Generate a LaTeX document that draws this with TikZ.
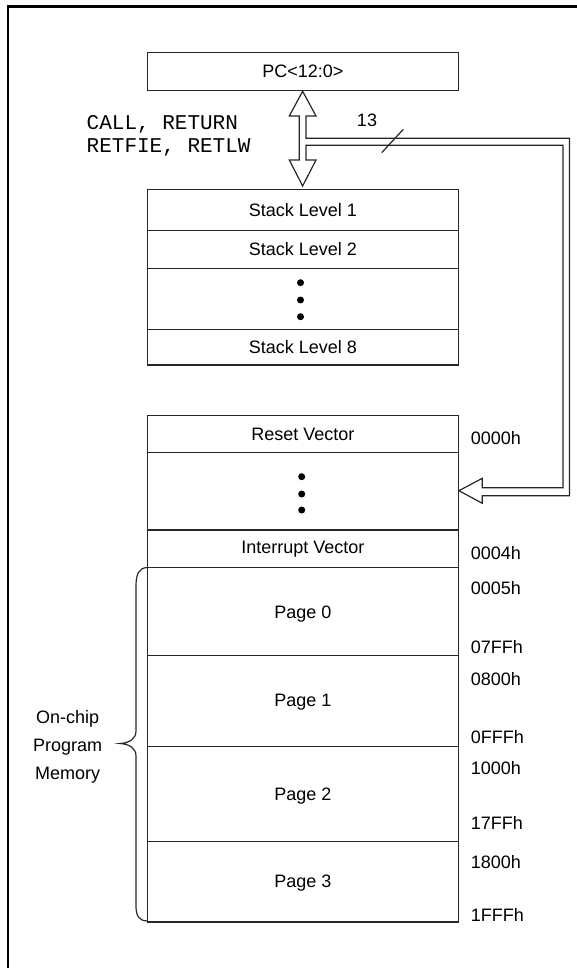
\documentclass[tikz,border=0pt]{standalone}
\usepackage{fontspec}
\setmainfont{Liberation Sans}
\newfontfamily\monof{Liberation Mono}
\begin{document}
\begin{tikzpicture}[x=1pt,y=-1pt,
  cell/.style={draw=black!85, line width=1.2pt, minimum width=310.8pt, inner sep=0pt, font=\fontsize{18}{21}\selectfont},
  addr/.style={anchor=west, inner sep=0pt, font=\fontsize{18}{21}\selectfont},
  mtxt/.style={anchor=west, inner sep=0pt, font=\monof\fontsize{21}{24}\selectfont},
  ln/.style={draw=black!85, line width=1.2pt}]
\useasboundingbox (0,0) rectangle (577,968);
\draw[line width=2.2pt] (7.8,970) -- (7.8,6.5) -- (580,6.5);
% PC box
\node[cell, minimum height=38.4pt] (pc) at (302.9,71.5) {PC<12:0>};
% stack
\node[cell, minimum height=41.4pt] (s1) at (302.9,210) {Stack Level 1};
\node[cell, minimum height=37.6pt] (s2) at (302.9,249.5) {Stack Level 2};
\node[cell, minimum height=61pt] (sd) at (302.9,298.8) {};
\node[cell, minimum height=35.7pt] (s8) at (302.9,347.15) {Stack Level 8};
\foreach \y in {282.7,300,316.7} \fill (300.5,\y) circle (3.5);
% memory
\node[cell, minimum height=37pt] (rv) at (302.9,434.2) {Reset Vector};
\node[cell, minimum height=77.3pt] (md) at (302.9,491.35) {};
\node[cell, minimum height=37.7pt] (iv) at (302.9,548.85) {Interrupt Vector};
\node[cell, minimum height=88pt] (p0) at (302.9,611.7) {};
\node[cell, minimum height=91pt] (p1) at (302.9,701.2) {};
\node[cell, minimum height=95pt] (p2) at (302.9,794.2) {};
\node[cell, minimum height=80.3pt] (p3) at (302.9,881.85) {};
\node[font=\fontsize{18}{21}\selectfont, inner sep=0pt] (p0t) at (302.9,614.5) {Page 0};
\node[font=\fontsize{18}{21}\selectfont, inner sep=0pt] (p1t) at (302.9,702) {Page 1};
\node[font=\fontsize{18}{21}\selectfont, inner sep=0pt] (p2t) at (302.9,796) {Page 2};
\node[font=\fontsize{18}{21}\selectfont, inner sep=0pt] (p3t) at (302.9,883) {Page 3};
\foreach \y in {476.7,494,510} \fill (301.7,\y) circle (3.5);
% addresses
\node[addr] (a0) at (470.7,438.3) {0000h};
\node[addr] (a4) at (470.7,552.7) {0004h};
\node[addr] (a5) at (470.7,588) {0005h};
\node[addr] (a7ff) at (470.7,646.7) {07FFh};
\node[addr] (a800) at (470.7,679.3) {0800h};
\node[addr] (afff) at (470.7,736.7) {0FFFh};
\node[addr] (a1000) at (470.7,768.3) {1000h};
\node[addr] (a17ff) at (470.7,822.7) {17FFh};
\node[addr] (a1800) at (470.7,862) {1800h};
\node[addr] (a1fff) at (470.7,914.7) {1FFFh};
% instruction labels
\node[mtxt] (c1) at (86.5,124) {CALL, RETURN};
\node[mtxt] (c2) at (86.5,147) {RETFIE, RETLW};
% bus width label
\node[font=\fontsize{18}{21}\selectfont, inner sep=0pt] (n13) at (367,120.7) {13};
\draw[ln] (381.7,152.7) -- (403.3,129.3);
% double arrow + bus
\draw[ln, line join=miter]
  (pc.south -| 302.65,0) -- (316,116) -- (306,116) -- (306,138.3) -- (569.5,138.3)
  -- (569.5,495.7) -- (482.3,495.7) -- (482.3,503.3) -- (md.east |- 0,490.7)
  -- (482.3,478.3) -- (482.3,487.7) -- (563,487.7) -- (563,145.3) -- (306,145.3)
  -- (306,160) -- (316,160) -- (302.65,186) -- (289.3,160) -- (299.3,160)
  -- (299.3,116) -- (289.3,116) -- cycle;
% brace
\draw[ln]
  (147,567.5) .. controls (139,568) and (136,574) .. (136,586) -- (136,731)
  .. controls (136,739) and (129,743) .. (120,743.5)
  .. controls (129,744) and (136,748) .. (136,756) -- (136,906)
  .. controls (136,916) and (139,920.5) .. (147,921);
\node[align=center, inner sep=0pt, font=\fontsize{18}{28}\selectfont] (ocm) at (67.7,747.3) {On-chip\\Program\\Memory};
\end{tikzpicture}
\end{document}
